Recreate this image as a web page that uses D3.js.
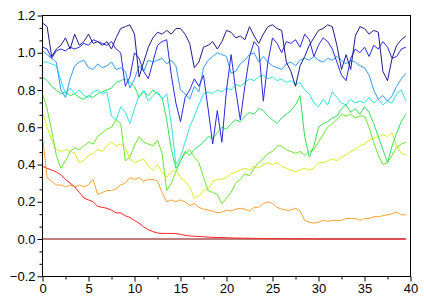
<!DOCTYPE html>
<html><head><meta charset="utf-8">
<script src="https://cdn.jsdelivr.net/npm/d3@7"></script>
<style>html,body{margin:0;padding:0;background:#fff;} svg{display:block;}</style>
</head><body>
<svg id="c" width="424" height="307"></svg>
<script>
// sampling grid (x)
const timeX = [0,0.5,1,1.5,2,2.5,3,3.5,4,4.5,5,5.5,6,6.5,7,7.5,8,8.5,9,9.5,
  10,10.5,11,11.5,12,12.5,13,13.5,14,14.5,15,15.5,16,16.5,17,17.5,18,18.5,19,19.5,
  20,20.5,21,21.5,22,22.5,23,23.5,24,24.5,25,25.5,26,26.5,27,27.5,28,28.5,29,29.5,
  30,30.5,31,31.5,32,32.5,33,33.5,34,34.5,35,35.5,36,36.5,37,37.5,38,38.5,39,39.5];

const sNavy = [1.16,1.14,0.98,1.02,1.04,1.08,1.02,1.10,1.04,1.06,
 1.10,1.05,1.06,1.04,1.06,1.02,1.08,1.13,1.14,1.15,
 1.10,0.87,0.95,1.03,1.08,1.11,1.10,1.12,1.10,1.13,
 1.13,1.10,1.05,0.92,0.95,1.03,1.04,1.06,1.02,1.06,
 1.12,1.11,1.08,1.09,1.07,1.14,1.09,1.05,1.10,1.14,
 1.15,1.13,1.12,0.95,0.90,0.82,0.93,0.98,1.04,1.08,
 1.12,1.13,1.15,1.14,1.04,0.91,0.99,0.91,1.09,1.14,
 1.13,1.10,1.12,1.11,0.90,0.85,0.97,1.04,1.07,1.09];
const sBlue = [1.03,1.02,0.97,1.01,1.02,1.01,1.03,1.02,1.03,1.05,
 1.04,1.07,1.06,1.05,1.04,1.06,1.02,1.00,0.82,0.87,
 1.00,0.97,0.90,0.86,0.95,1.04,1.06,1.07,0.88,0.73,
 0.63,0.76,0.80,0.86,0.82,0.88,0.70,0.51,0.69,0.52,
 0.80,0.99,0.80,0.64,0.82,0.98,1.06,1.03,0.74,0.95,
 1.08,1.05,1.00,1.06,1.05,1.07,1.03,1.10,1.07,0.98,
 1.04,1.08,1.06,1.02,0.95,0.88,0.85,0.97,1.02,1.00,
 1.03,0.98,1.04,1.02,1.06,1.03,0.97,0.98,1.02,1.03];
const sSky = [1.01,0.99,0.97,0.95,0.80,0.76,0.86,0.93,0.95,0.96,
 0.92,0.91,0.94,0.92,0.93,0.95,0.91,0.92,0.90,0.81,
 0.86,0.93,0.90,0.96,0.95,0.96,0.97,0.94,0.96,0.93,
 0.80,0.78,0.75,0.82,0.79,0.92,0.96,0.98,1.00,0.99,
 0.98,0.89,0.90,0.94,0.96,0.99,1.00,0.95,0.98,0.95,
 0.93,0.92,0.91,0.94,0.95,0.93,0.96,0.97,0.96,0.98,
 0.96,0.95,0.97,0.96,0.98,0.96,0.94,0.96,0.95,0.93,
 0.92,0.88,0.80,0.75,0.77,0.74,0.77,0.82,0.86,0.89];
const sCyan = [0.95,0.95,0.94,0.93,0.85,0.78,0.81,0.78,0.80,0.77,
 0.76,0.79,0.80,0.78,0.79,0.66,0.64,0.71,0.68,0.62,
 0.70,0.77,0.80,0.74,0.77,0.79,0.75,0.78,0.62,0.40,
 0.44,0.52,0.60,0.66,0.72,0.78,0.79,0.78,0.80,0.79,
 0.81,0.80,0.83,0.82,0.84,0.86,0.85,0.87,0.88,0.86,
 0.87,0.85,0.86,0.84,0.85,0.83,0.84,0.80,0.78,0.73,
 0.71,0.75,0.72,0.79,0.76,0.73,0.72,0.75,0.73,0.74,
 0.73,0.76,0.73,0.75,0.72,0.74,0.73,0.78,0.80,0.74];
const sSpring = [0.87,0.85,0.82,0.80,0.78,0.79,0.77,0.78,0.76,0.75,
 0.77,0.76,0.78,0.79,0.80,0.81,0.84,0.85,0.86,0.84,
 0.82,0.76,0.79,0.77,0.80,0.78,0.76,0.64,0.48,0.38,
 0.42,0.47,0.45,0.48,0.50,0.52,0.55,0.54,0.57,0.60,
 0.59,0.62,0.64,0.63,0.66,0.68,0.67,0.70,0.69,0.66,
 0.64,0.62,0.65,0.67,0.69,0.72,0.77,0.55,0.44,0.50,
 0.60,0.62,0.63,0.65,0.66,0.70,0.72,0.68,0.70,0.67,
 0.71,0.68,0.62,0.55,0.48,0.41,0.50,0.57,0.63,0.67];
const sLime = [0.78,0.70,0.58,0.45,0.38,0.42,0.47,0.49,0.48,0.50,
 0.52,0.51,0.55,0.57,0.59,0.60,0.64,0.62,0.42,0.44,
 0.50,0.55,0.52,0.51,0.50,0.53,0.46,0.26,0.30,0.36,
 0.42,0.46,0.48,0.44,0.41,0.33,0.26,0.25,0.24,0.19,
 0.22,0.25,0.30,0.32,0.35,0.34,0.38,0.41,0.43,0.46,
 0.47,0.50,0.50,0.48,0.47,0.46,0.47,0.45,0.47,0.48,
 0.52,0.56,0.60,0.62,0.64,0.67,0.66,0.67,0.65,0.66,
 0.66,0.60,0.52,0.45,0.40,0.41,0.45,0.49,0.51,0.52];
const sYellow = [0.68,0.60,0.53,0.48,0.47,0.48,0.47,0.46,0.41,0.42,
 0.45,0.46,0.48,0.47,0.50,0.52,0.50,0.51,0.49,0.43,
 0.41,0.42,0.43,0.39,0.37,0.40,0.36,0.33,0.36,0.37,
 0.33,0.31,0.28,0.22,0.23,0.26,0.27,0.31,0.32,0.32,
 0.33,0.35,0.36,0.37,0.38,0.37,0.39,0.38,0.40,0.41,
 0.40,0.41,0.39,0.38,0.37,0.36,0.37,0.38,0.37,0.38,
 0.41,0.41,0.42,0.43,0.42,0.44,0.45,0.47,0.48,0.50,
 0.51,0.53,0.54,0.55,0.56,0.55,0.57,0.50,0.46,0.45];
const sOrange = [0.55,0.33,0.31,0.29,0.29,0.28,0.29,0.28,0.29,0.28,
 0.29,0.32,0.24,0.25,0.26,0.26,0.27,0.29,0.30,0.33,
 0.32,0.33,0.31,0.32,0.32,0.31,0.25,0.20,0.21,0.20,
 0.21,0.20,0.18,0.19,0.17,0.16,0.155,0.15,0.14,0.145,
 0.155,0.15,0.16,0.165,0.16,0.15,0.17,0.17,0.19,0.20,
 0.19,0.17,0.16,0.155,0.155,0.165,0.15,0.10,0.09,0.085,
 0.09,0.10,0.095,0.10,0.10,0.10,0.11,0.11,0.11,0.10,
 0.11,0.11,0.12,0.12,0.125,0.13,0.135,0.145,0.13,0.13];
const sRed = [0.39,0.38,0.37,0.36,0.345,0.32,0.30,0.28,0.25,0.22,
 0.21,0.20,0.175,0.17,0.165,0.155,0.14,0.14,0.125,0.115,
 0.10,0.085,0.065,0.05,0.04,0.032,0.03,0.03,0.03,0.029,
 0.025,0.02,0.016,0.015,0.013,0.012,0.01,0.009,0.008,0.008,
 0.007,0.006,0.005,0.005,0.004,0.004,0.003,0.003,0.003,0.002,
 0.002,0.002,0.002,0.001,0.001,0.001,0.001,0.001,0.001,0.001,
 0,0,0,0,0,0,0,0,0,0,
 0,0,0,0,0,0,0,0,0,0];
const zeroX = [0, 39.5];
const zeroY = [0, 0];

const seriesValues = [sNavy, sBlue, sSky, sCyan, sSpring, sLime, sYellow, sOrange, sRed];
const seriesColors = ["#1c1c8a","#2a2ae0","#2f9cf5","#30e0e0","#30e05a","#6ae62c","#d6ee1e","#ffa030","#ff2020"];
const zeroColor = "#800000";

const xTickValues = [0,5,10,15,20,25,30,35,40];
const xMinorValues = [2.5,7.5,12.5,17.5,22.5,27.5,32.5,37.5];
const yTickValues = [-0.2,0,0.2,0.4,0.6,0.8,1.0,1.2];
const yTickLabels = ["\u22120.2","0.0","0.2","0.4","0.6","0.8","1.0","1.2"];

const svg = d3.select("#c");
const L = 42.5, R = 410.5, T = 15.5, B = 276.25;
const x = d3.scaleLinear().domain([0,40]).range([L,R]);
const y = d3.scaleLinear().domain([-0.2,1.2]).range([B,T]);

const line = d3.line().x(d => x(d[0])).y(d => y(d[1]));

const plot = svg.append("g");
plot.append("path").datum(zeroX.map((v,i)=>[v,zeroY[i]]))
  .attr("d", line).attr("fill","none").attr("stroke",zeroColor).attr("stroke-width",1);
for (let k = seriesValues.length - 1; k >= 0; k--) {
  const pts = timeX.map((t,i)=>[t, seriesValues[k][i]]);
  plot.append("path").datum(pts).attr("d", line)
    .attr("fill","none").attr("stroke",seriesColors[k]).attr("stroke-width",1)
    .attr("stroke-linejoin","round");
}

// frame (crisp)
const FB = 276.5;
svg.append("rect").attr("x",L).attr("y",T).attr("width",R-L).attr("height",FB-T)
  .attr("fill","none").attr("stroke","#000").attr("stroke-width",1);

const font = "'Liberation Sans', Arial, Helvetica, sans-serif";
const xAxis = d3.axisBottom(x).tickValues(xTickValues).tickSize(5).tickSizeOuter(0).tickPadding(2)
  .tickFormat(d3.format("d"));
const gx = svg.append("g").attr("transform",`translate(0,${FB})`).call(xAxis);
gx.selectAll("text").style("font-family",font).style("font-size","13px").attr("fill","#000");
gx.select(".domain").remove();
const xMinorAxis = d3.axisBottom(x).tickValues(xMinorValues).tickSize(3).tickSizeOuter(0).tickFormat("");
const gxm = svg.append("g").attr("transform",`translate(0,${FB})`).call(xMinorAxis);
gxm.select(".domain").remove();

const yAxis = d3.axisLeft(y).tickValues(yTickValues).tickSize(5).tickSizeOuter(0).tickPadding(2)
  .tickFormat((d,i)=>yTickLabels[i]);
const gy = svg.append("g").attr("transform",`translate(${L},0)`).call(yAxis);
gy.selectAll("text").style("font-family",font).style("font-size","13px").attr("fill","#000");
gy.select(".domain").remove();
const yMinorValues = [];
for (let i = 0; i < yTickValues.length - 1; i++) {
  const a = yTickValues[i], b = yTickValues[i+1];
  yMinorValues.push(a + (b-a)/3, a + 2*(b-a)/3);
}
const yMinorAxis = d3.axisLeft(y).tickValues(yMinorValues).tickSize(3).tickSizeOuter(0).tickFormat("");
const gym = svg.append("g").attr("transform",`translate(${L},0)`).call(yMinorAxis);
gym.select(".domain").remove();
</script>
</body></html>
